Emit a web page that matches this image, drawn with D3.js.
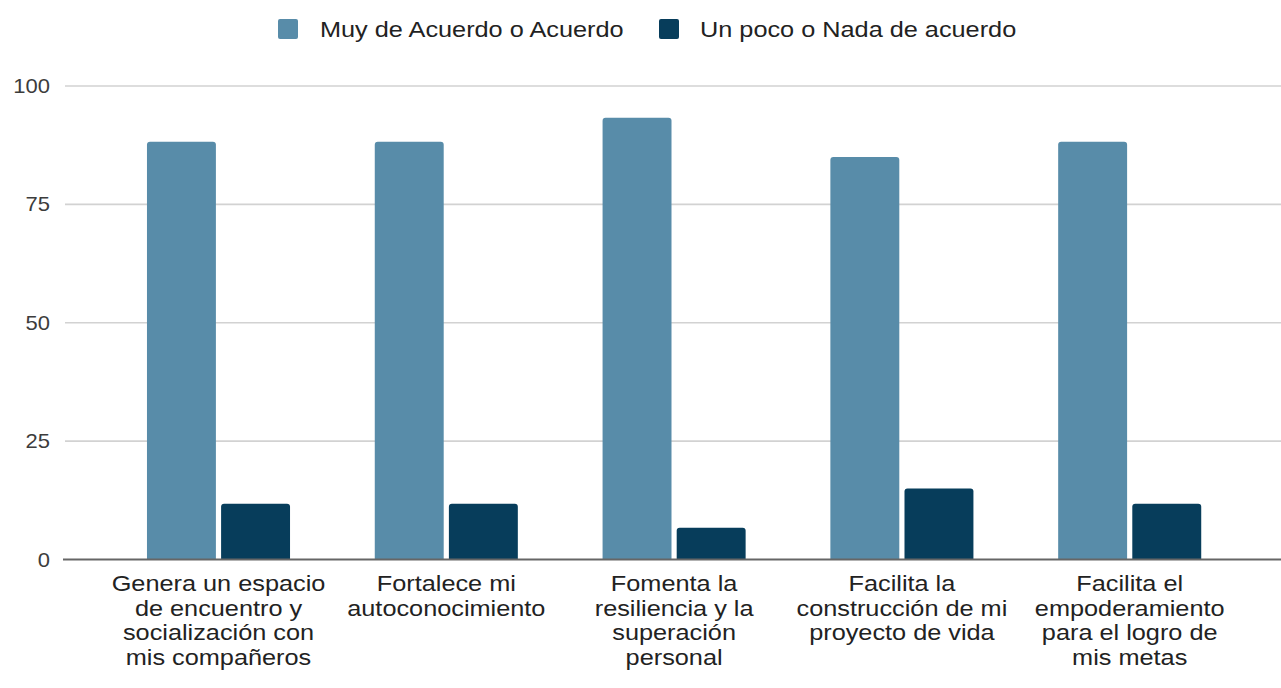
<!DOCTYPE html>
<html>
<head>
<meta charset="utf-8">
<script src="https://cdn.jsdelivr.net/npm/d3@7"></script>
<style>
  html, body { margin: 0; padding: 0; background: #fff; }
  svg { display: block; }
  text { font-family: "Liberation Sans", Arial, sans-serif; }
</style>
</head>
<body>
<script>
// ---- data ----
const categories = [
  "Genera un espacio de encuentro y socialización con mis compañeros",
  "Fortalece mi autoconocimiento",
  "Fomenta la resiliencia y la superación personal",
  "Facilita la construcción de mi proyecto de vida",
  "Facilita el empoderamiento para el logro de mis metas"
];
const categoryLines = [
  ["Genera un espacio", "de encuentro y", "socialización con", "mis compañeros"],
  ["Fortalece mi", "autoconocimiento"],
  ["Fomenta la", "resiliencia y la", "superación", "personal"],
  ["Facilita la", "construcción de mi", "proyecto de vida"],
  ["Facilita el", "empoderamiento", "para el logro de", "mis metas"]
];
const seriesNames = ["Muy de Acuerdo o Acuerdo", "Un poco o Nada de acuerdo"];
const acuerdo = [88.2, 88.2, 93.3, 85, 88.2];
const desacuerdo = [11.8, 11.8, 6.7, 15, 11.8];
const yTicks = [0, 25, 50, 75, 100];
const colors = ["#588ca9", "#073d5b"];

// ---- layout ----
const W = 1281, H = 688;
const stretch = 1.15;
const svg = d3.select("body").append("svg").attr("width", W).attr("height", H);

const y = d3.scaleLinear().domain([0, 100]).range([559.5, 86]);
const step = 227.8;
const x0 = d3.scaleBand().domain(categories)
  .range([218.5 - step / 2, 218.5 - step / 2 + step * categories.length])
  .paddingInner(0.372).paddingOuter(0.186);
const x1 = d3.scaleBand().domain(seriesNames).range([0, x0.bandwidth()]).paddingInner(0.07);

// gridlines
const grid = svg.append("g");
grid.selectAll("line").data(yTicks.filter(d => d !== 0)).join("line")
  .attr("x1", 65).attr("x2", W)
  .attr("y1", d => y(d)).attr("y2", d => y(d))
  .attr("stroke", "#d2d2d2").attr("stroke-width", 1.6);

// y tick labels
const yl = svg.append("g");
yl.selectAll("text").data(yTicks).join("text")
  .attr("transform", d => `translate(50,${y(d) + 7}) scale(1.1,1)`)
  .attr("text-anchor", "end")
  .attr("font-size", 20)
  .attr("fill", "#3c3c3c")
  .text(d => d);

// bars
function barPath(x, yTop, w, yBase, r) {
  r = Math.min(r, (yBase - yTop) / 2, w / 2);
  return `M${x},${yBase}V${yTop + r}Q${x},${yTop} ${x + r},${yTop}H${x + w - r}Q${x + w},${yTop} ${x + w},${yTop + r}V${yBase}Z`;
}
const seriesData = [acuerdo, desacuerdo];
const groups = svg.append("g").selectAll("g").data(categories).join("g")
  .attr("transform", d => `translate(${x0(d)},0)`);
groups.selectAll("path").data((d, i) => seriesNames.map((s, k) => ({ s, v: seriesData[k][i], k })))
  .join("path")
  .attr("d", d => barPath(x1(d.s), y(d.v), x1.bandwidth(), y(0), 3))
  .attr("fill", d => colors[d.k]);

// baseline
svg.append("line")
  .attr("x1", 63).attr("x2", W)
  .attr("y1", y(0)).attr("y2", y(0))
  .attr("stroke", "#666").attr("stroke-width", 2);

// category labels
const cl = svg.append("g");
categories.forEach((c, i) => {
  const cx = x0(c) + x0.bandwidth() / 2;
  categoryLines[i].forEach((line, j) => {
    cl.append("text")
      .attr("transform", `translate(${cx},${591 + j * 24.7}) scale(${stretch},1)`)
      .attr("text-anchor", "middle")
      .attr("font-size", 22)
      .attr("fill", "#222")
      .text(line);
  });
});

// legend
const legend = svg.append("g");
const legendItems = [
  { name: seriesNames[0], color: colors[0], sx: 278, tx: 320 },
  { name: seriesNames[1], color: colors[1], sx: 659, tx: 700 }
];
legendItems.forEach(d => {
  legend.append("rect")
    .attr("x", d.sx).attr("y", 19).attr("width", 20).attr("height", 20)
    .attr("rx", 2).attr("fill", d.color);
  legend.append("text")
    .attr("transform", `translate(${d.tx},37) scale(${stretch},1)`)
    .attr("font-size", 22)
    .attr("fill", "#222")
    .text(d.name);
});
</script>
</body>
</html>
